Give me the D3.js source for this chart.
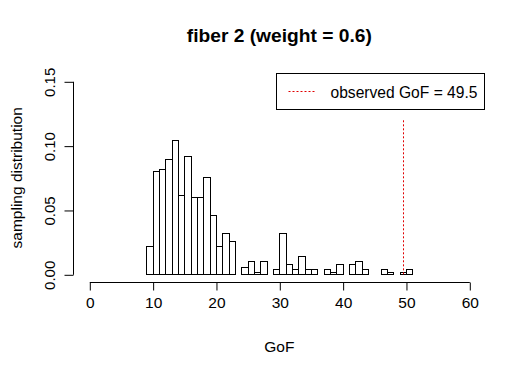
<!DOCTYPE html>
<html>
<head>
<meta charset="utf-8">
<script src="https://cdnjs.cloudflare.com/ajax/libs/d3/7.8.5/d3.min.js"></script>
<style>
  body { margin: 0; background: #fff; }
  text { font-family: Arial, "Liberation Sans", sans-serif; fill: #000; }
</style>
</head>
<body>
<svg id="chart" width="523" height="374"></svg>
<script>
const width = 523;
const height = 374;

// histogram bin edges (GoF) and densities per bin
const breaks = [9, 10, 11, 12, 13, 14, 15, 16, 17, 18, 19, 20, 21, 22, 23, 24, 25, 26, 27, 28, 29, 30,
  31, 32, 33, 34, 35, 36, 37, 38, 39, 40, 41, 42, 43, 44, 45, 46, 47, 48, 49, 50, 51];
const density = [0.022, 0.080, 0.082, 0.090, 0.104, 0.062, 0.092, 0.060, 0.060, 0.076, 0.046, 0.022,
  0.032, 0.026, 0.000, 0.006, 0.010, 0.002, 0.010, 0.000, 0.004, 0.032, 0.008, 0.004, 0.014, 0.004,
  0.004, 0.000, 0.004, 0.002, 0.008, 0.000, 0.008, 0.010, 0.004, 0.000, 0.000, 0.004, 0.002, 0.000,
  0.002, 0.004];

const xTicks = [0, 10, 20, 30, 40, 50, 60];
const yTicks = [0.00, 0.05, 0.10, 0.15];
const observed = 49.5;
const observedTop = 0.12;

const titleText = "fiber 2 (weight = 0.6)";
const xLabel = "GoF";
const yLabel = "sampling distribution";
const legendText = "observed GoF = " + observed;

const svg = d3.select("#chart");

const x = d3.scaleLinear().domain([0, 60]).range([89.3, 469.3]);
const y = d3.scaleLinear().domain([0, 0.15]).range([274.3, 81.3]);

const bins = density.map((d, i) => ({ x0: breaks[i], x1: breaks[i + 1], v: d }));

// bars
svg.append("g")
  .selectAll("rect")
  .data(bins)
  .enter()
  .append("rect")
  .attr("x", d => Math.round(x(d.x0)) + 0.5)
  .attr("y", d => Math.round(y(d.v)) + 0.5)
  .attr("width", d => Math.round(x(d.x1)) - Math.round(x(d.x0)))
  .attr("height", d => Math.round(y(0)) - Math.round(y(d.v)))
  .attr("fill", "#fff")
  .attr("stroke", "#000")
  .attr("stroke-width", 1);

// observed line
const ox = Math.round(x(observed)) + 0.5;
svg.append("line")
  .attr("x1", ox).attr("x2", ox)
  .attr("y1", y(0)).attr("y2", y(observedTop))
  .attr("stroke", "#e00000")
  .attr("stroke-dasharray", "2,2");

// x axis
const xAxis = d3.axisBottom(x).tickValues(xTicks).tickSize(8).tickPadding(6).tickFormat(d3.format("d"));
const gx = svg.append("g")
  .attr("transform", "translate(0.5,282.5)")
  .call(xAxis);
gx.select(".domain").attr("d", `M${x(0)},0H${x(60)}`);
gx.selectAll("text").attr("font-size", 15.5).attr("font-family", "Arial, 'Liberation Sans', sans-serif");

// y axis
const yAxis = d3.axisLeft(y).tickValues(yTicks).tickSize(9).tickFormat(d3.format(".2f"));
const gy = svg.append("g")
  .attr("transform", "translate(73.5,0.5)")
  .call(yAxis);
gy.select(".domain").attr("d", `M0,${y(0)}V${y(0.15)}`);
gy.selectAll(".tick text")
  .attr("font-size", 15)
  .attr("font-family", "Arial, 'Liberation Sans', sans-serif")
  .attr("text-anchor", "middle")
  .attr("x", null).attr("dy", null)
  .attr("transform", "translate(-19,0) rotate(-90)");

// titles
svg.append("text")
  .attr("x", 279.3).attr("y", 42)
  .attr("text-anchor", "middle")
  .attr("font-size", 19.2)
  .attr("font-weight", "bold")
  .text(titleText);

svg.append("text")
  .attr("x", 279.3).attr("y", 352)
  .attr("text-anchor", "middle")
  .attr("font-size", 15.5)
  .text(xLabel);

svg.append("text")
  .attr("transform", `translate(21.5,${(y(0) + y(0.15)) / 2}) rotate(-90)`)
  .attr("text-anchor", "middle")
  .attr("font-size", 15.5)
  .text(yLabel);

// legend
const legend = svg.append("g").attr("transform", "translate(276.5,73.5)");
legend.append("rect")
  .attr("width", 208).attr("height", 36)
  .attr("fill", "#fff").attr("stroke", "#000");
legend.append("line")
  .attr("x1", 12).attr("x2", 39)
  .attr("y1", 18).attr("y2", 18)
  .attr("stroke", "#e00000")
  .attr("stroke-dasharray", "2,2");
legend.append("text")
  .attr("x", 54).attr("y", 24)
  .attr("font-size", 15.6)
  .text(legendText);
</script>
</body>
</html>
